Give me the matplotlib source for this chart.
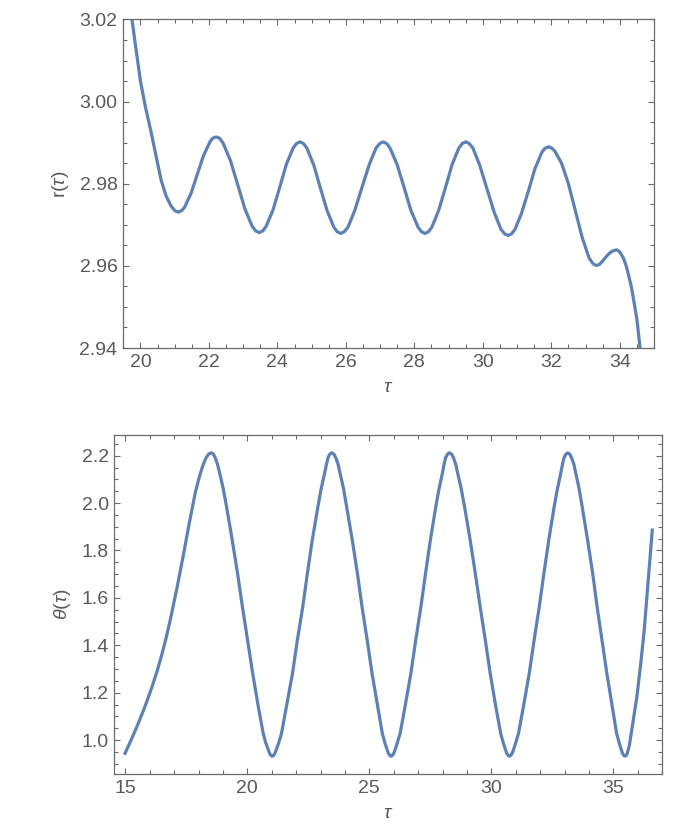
import matplotlib

matplotlib.use("Agg")
import matplotlib.pyplot as plt
from matplotlib.ticker import MultipleLocator, FormatStrFormatter

# r(tau)
tau_r = [19.68, 19.85, 20.00, 20.15, 20.30, 20.45, 20.60, 20.75, 20.90, 21.01,
         21.11, 21.21, 21.29, 21.48, 21.66, 21.84, 22.03, 22.11, 22.21, 22.31,
         22.42, 22.63, 22.84, 23.05, 23.26, 23.37, 23.47, 23.57, 23.67, 23.87,
         24.07, 24.26, 24.46, 24.56, 24.66, 24.76, 24.86, 25.06, 25.25, 25.45,
         25.65, 25.75, 25.85, 25.95, 26.06, 26.26, 26.47, 26.68, 26.88, 26.99,
         27.09, 27.19, 27.29, 27.50, 27.70, 27.90, 28.11, 28.21, 28.31, 28.41,
         28.51, 28.71, 28.91, 29.10, 29.30, 29.40, 29.50, 29.60, 29.71, 29.91,
         30.12, 30.33, 30.53, 30.64, 30.74, 30.84, 30.94, 31.13, 31.33, 31.52,
         31.72, 31.81, 31.91, 32.01, 32.10, 32.30, 32.50, 32.70, 32.90, 33.10,
         33.20, 33.30, 33.40, 33.50, 33.60, 33.70, 33.81, 33.91, 34.00, 34.10,
         34.18, 34.25, 34.33, 34.40, 34.50, 34.60]
r_vals = [3.0245, 3.0140, 3.0050, 2.9985, 2.9930, 2.9870, 2.9810, 2.9770, 2.9745, 2.9734,
          2.9731, 2.9735, 2.9743, 2.9777, 2.9823, 2.9868, 2.9902, 2.9911, 2.9914, 2.9911,
          2.9898, 2.9856, 2.9798, 2.9739, 2.9697, 2.9685, 2.9681, 2.9685, 2.9696, 2.9736,
          2.9792, 2.9847, 2.9887, 2.9898, 2.9902, 2.9898, 2.9887, 2.9846, 2.9791, 2.9735,
          2.9694, 2.9683, 2.9679, 2.9683, 2.9694, 2.9735, 2.9791, 2.9846, 2.9887, 2.9898,
          2.9902, 2.9898, 2.9887, 2.9846, 2.9791, 2.9735, 2.9694, 2.9683, 2.9679, 2.9683,
          2.9694, 2.9735, 2.9791, 2.9846, 2.9887, 2.9898, 2.9902, 2.9898, 2.9887, 2.9845,
          2.9788, 2.9731, 2.9689, 2.9678, 2.9674, 2.9678, 2.9689, 2.9728, 2.9782, 2.9836,
          2.9876, 2.9886, 2.9890, 2.9887, 2.9880, 2.9850, 2.9800, 2.9735, 2.9670, 2.9620,
          2.9607, 2.9601, 2.9603, 2.9612, 2.9622, 2.9631, 2.9637, 2.9639, 2.9634, 2.9620,
          2.9602, 2.9580, 2.9552, 2.9520, 2.9470, 2.9395]

# theta(tau)
tau_th = [14.99, 15.25, 15.53, 15.80, 16.08, 16.30, 16.49, 16.66, 16.83, 17.11, 17.38, 17.62,
          17.86, 18.00, 18.13, 18.22, 18.32, 18.42,
          18.52, 18.61, 18.69, 18.78, 18.87, 19.01, 19.15, 19.38, 19.60, 19.80, 20.01, 20.22,
          20.45, 20.65, 20.75, 20.86, 20.90, 20.94, 20.98, 21.02,
          21.06, 21.10, 21.14, 21.18, 21.29, 21.40, 21.60, 21.85, 22.05, 22.27, 22.46, 22.66,
          22.89, 23.02, 23.16, 23.24, 23.30, 23.38,
          23.46, 23.55, 23.63, 23.72, 23.80, 23.94, 24.07, 24.30, 24.51, 24.70, 24.91, 25.11,
          25.34, 25.53, 25.63, 25.73, 25.77, 25.81, 25.85, 25.89,
          25.93, 25.97, 26.01, 26.05, 26.15, 26.26, 26.46, 26.70, 26.90, 27.11, 27.30, 27.50,
          27.72, 27.85, 27.99, 28.06, 28.12, 28.20,
          28.28, 28.37, 28.45, 28.54, 28.62, 28.76, 28.90, 29.13, 29.34, 29.54, 29.75, 29.95,
          30.18, 30.38, 30.48, 30.58, 30.62, 30.66, 30.70, 30.74,
          30.78, 30.82, 30.86, 30.90, 31.00, 31.11, 31.31, 31.55, 31.75, 31.96, 32.15, 32.35,
          32.57, 32.70, 32.84, 32.91, 32.97, 33.05,
          33.13, 33.21, 33.29, 33.38, 33.46, 33.59, 33.72, 33.94, 34.15, 34.33, 34.53, 34.73,
          34.95, 35.13, 35.23, 35.33, 35.36, 35.40, 35.44, 35.48,
          35.52, 35.56, 35.65, 35.75, 35.96, 36.12, 36.26, 36.37, 36.48, 36.59]
th_vals = [0.944, 1.003, 1.070, 1.140, 1.220, 1.290, 1.358, 1.426, 1.501, 1.638, 1.781, 1.915,
           2.040, 2.098, 2.143, 2.170, 2.193, 2.207,
           2.212, 2.2065, 2.190, 2.163, 2.125, 2.062, 1.984, 1.844, 1.703, 1.562, 1.422, 1.281,
           1.141, 1.028, 0.990, 0.958, 0.947, 0.939, 0.934, 0.932,
           0.934, 0.939, 0.947, 0.958, 0.990, 1.028, 1.141, 1.281, 1.422, 1.562, 1.703, 1.844,
           1.984, 2.058, 2.125, 2.163, 2.190, 2.2065,
           2.212, 2.2065, 2.190, 2.163, 2.125, 2.062, 1.984, 1.844, 1.703, 1.562, 1.422, 1.281,
           1.141, 1.028, 0.990, 0.958, 0.947, 0.939, 0.934, 0.932,
           0.934, 0.939, 0.947, 0.958, 0.990, 1.028, 1.141, 1.281, 1.422, 1.562, 1.703, 1.844,
           1.984, 2.058, 2.125, 2.163, 2.190, 2.2065,
           2.212, 2.2065, 2.190, 2.163, 2.125, 2.062, 1.984, 1.844, 1.703, 1.562, 1.422, 1.281,
           1.141, 1.028, 0.990, 0.958, 0.947, 0.939, 0.934, 0.932,
           0.934, 0.939, 0.947, 0.958, 0.990, 1.028, 1.141, 1.281, 1.422, 1.562, 1.703, 1.844,
           1.984, 2.058, 2.125, 2.163, 2.190, 2.2065,
           2.212, 2.2065, 2.190, 2.163, 2.125, 2.062, 1.984, 1.844, 1.703, 1.562, 1.422, 1.281,
           1.141, 1.028, 0.990, 0.958, 0.947, 0.939, 0.934, 0.932,
           0.935, 0.942, 0.976, 1.042, 1.183, 1.324, 1.464, 1.605, 1.746, 1.886]

LINE = "#5e81b5"
FRAME = "#6b6b6b"
TEXT = "#5a5a5a"

plt.rcParams.update({
    "font.family": ["Liberation Sans", "DejaVu Sans"],
    "font.size": 14,
    "mathtext.fontset": "custom",
    "mathtext.rm": "Liberation Sans",
    "mathtext.it": "Liberation Sans:italic",
})


def style(ax, xmaj, xmin, ymaj, ymin, yfmt):
    for s in ax.spines.values():
        s.set_color(FRAME)
        s.set_linewidth(0.9)
    ax.xaxis.set_major_locator(MultipleLocator(xmaj))
    ax.xaxis.set_minor_locator(MultipleLocator(xmin))
    ax.yaxis.set_major_locator(MultipleLocator(ymaj))
    ax.yaxis.set_minor_locator(MultipleLocator(ymin))
    ax.yaxis.set_major_formatter(FormatStrFormatter(yfmt))
    ax.tick_params(which="both", direction="in", top=True, right=True,
                   color=FRAME, labelcolor=TEXT, width=0.8)
    ax.tick_params(which="major", length=4.2, pad=4)
    ax.tick_params(which="minor", length=2.6)


fig = plt.figure(figsize=(7, 8.4), dpi=100)

ax1 = fig.add_axes([0.1757, 0.5857, 0.7586, 0.3911])
ax1.plot(tau_r, r_vals, color=LINE, lw=2.3, solid_joinstyle="round")
ax1.set_xlim(19.49, 35.0)
ax1.set_ylim(2.94, 3.02)
style(ax1, 2, 0.5, 0.02, 0.005, "%.2f")
ax1.set_xlabel(r"$\mathit{\tau}$", color=TEXT, labelpad=6)
ax1.set_ylabel(r"r($\mathit{\tau}$)", color=TEXT, labelpad=6)

ax2 = fig.add_axes([0.1633, 0.0786, 0.7828, 0.4032])
ax2.plot(tau_th, th_vals, color=LINE, lw=2.3, solid_joinstyle="round")
ax2.set_xlim(14.55, 37.0)
ax2.set_ylim(0.857, 2.286)
style(ax2, 5, 1, 0.2, 0.05, "%.1f")
ax2.set_xlabel(r"$\mathit{\tau}$", color=TEXT, labelpad=6)
ax2.set_ylabel(r"$\mathit{\theta}$($\mathit{\tau}$)", color=TEXT, labelpad=6)

fig.savefig("out.png", dpi=100)
